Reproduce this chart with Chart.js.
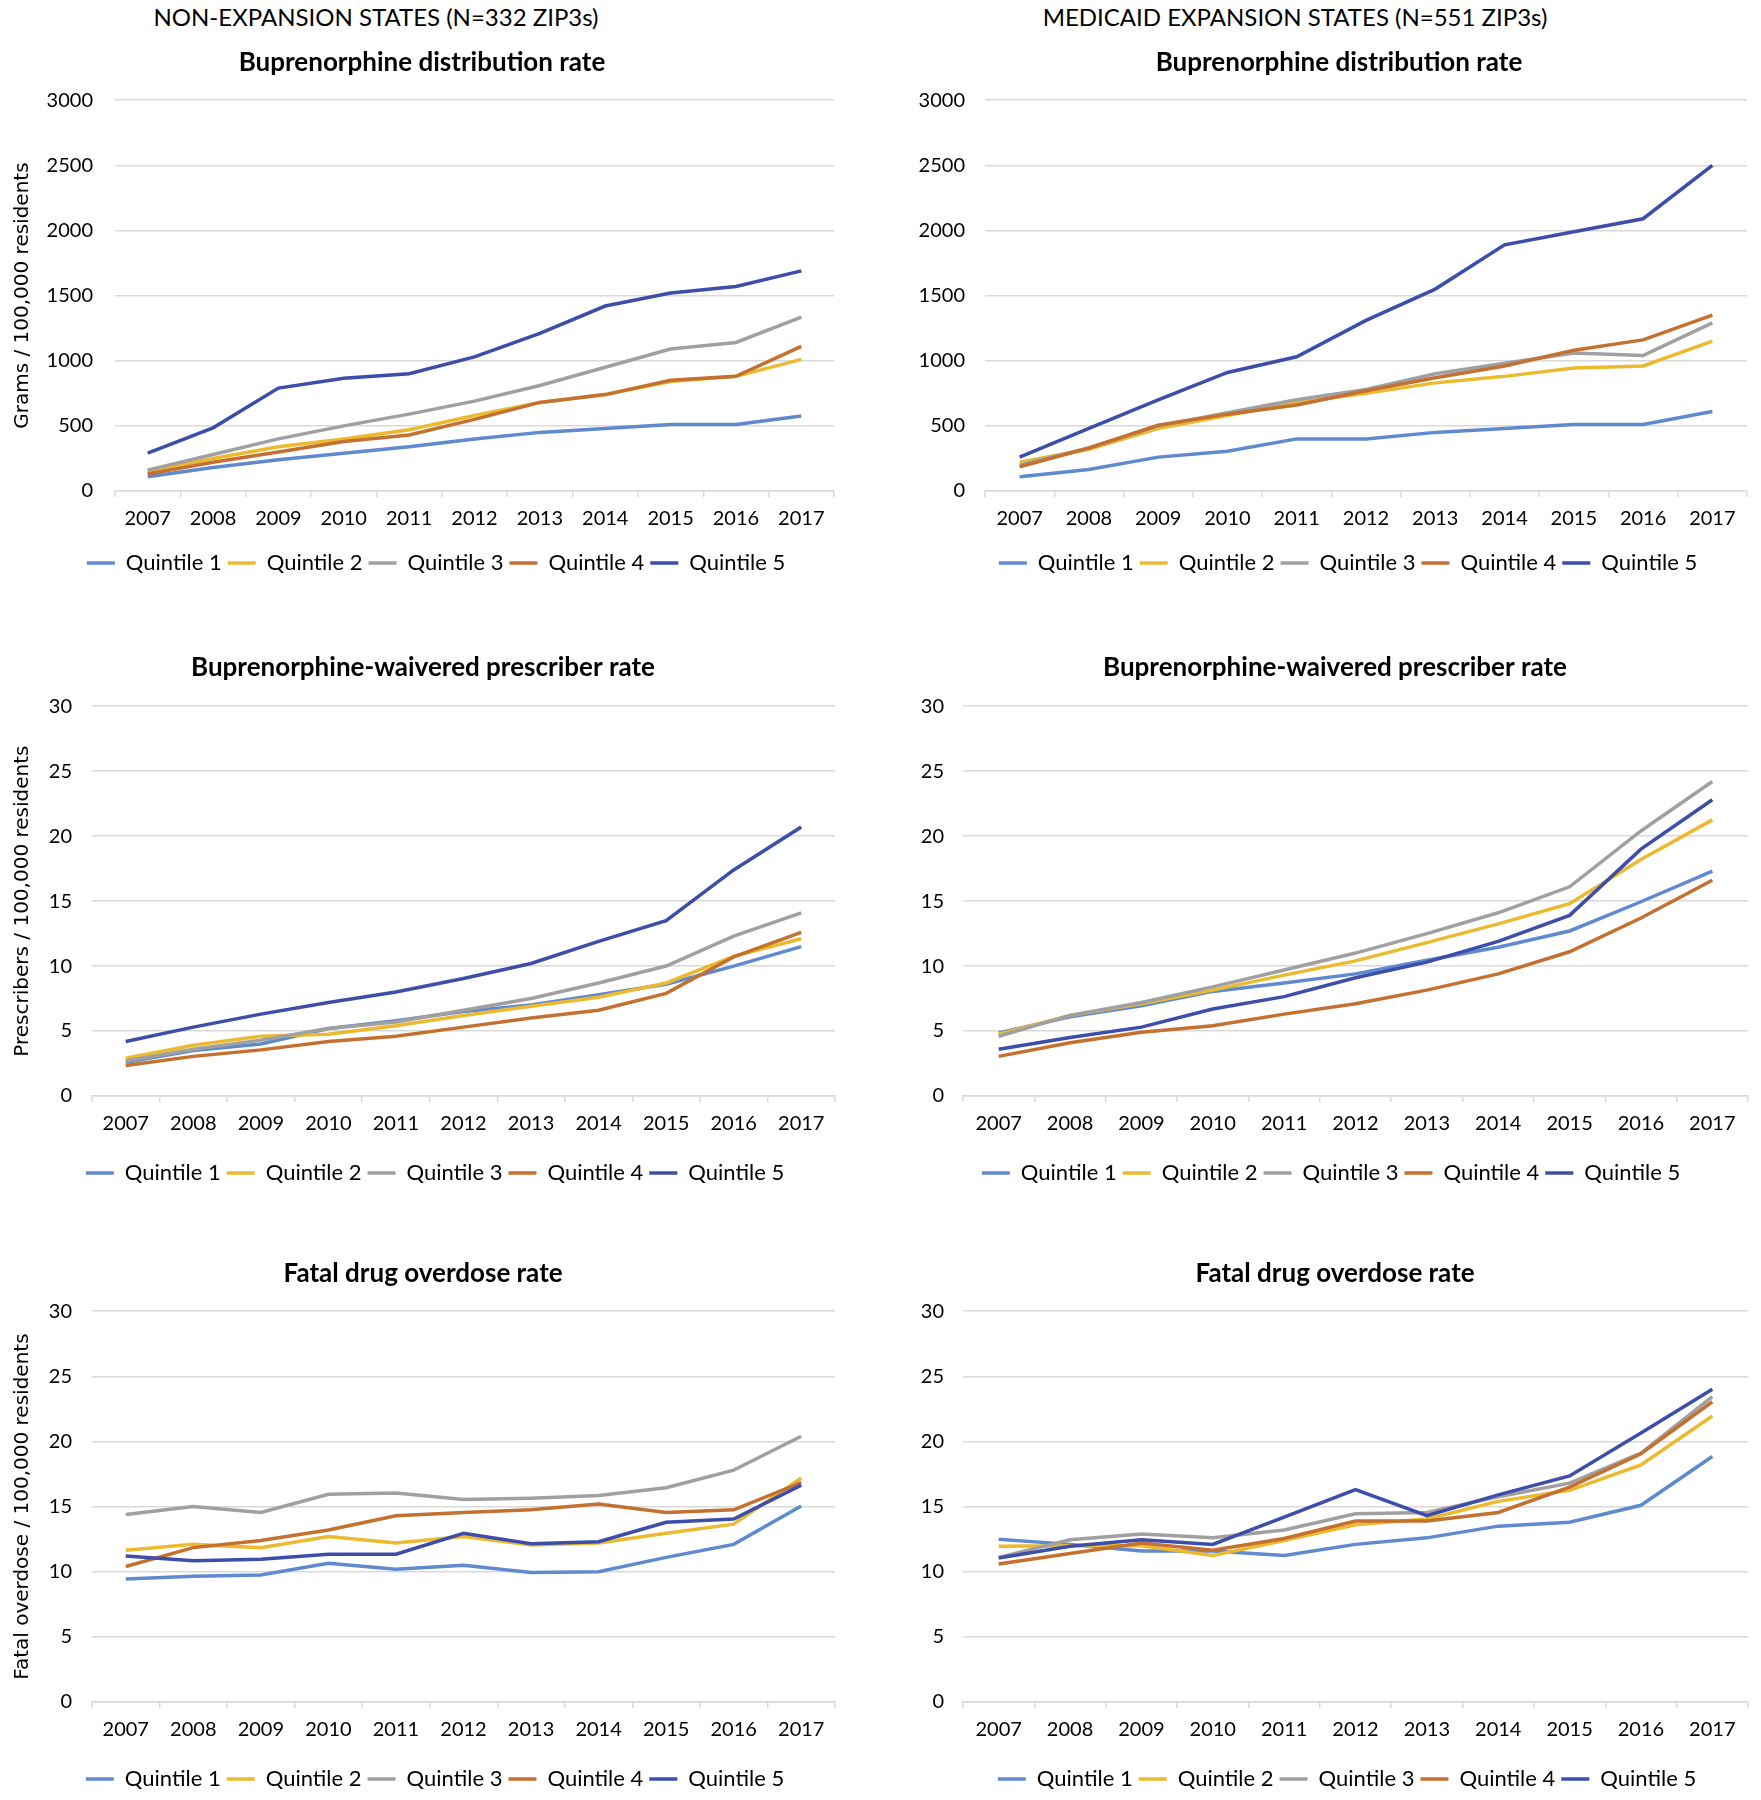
<!DOCTYPE html>
<html>
<head>
<meta charset="utf-8">
<script src="https://cdn.jsdelivr.net/npm/chart.js@4.4.1/dist/chart.umd.min.js"></script>
<style>
  html, body { margin: 0; padding: 0; background: #fff; }
  body { width: 1761px; height: 1800px; position: relative; overflow: hidden; font-family: Lato, sans-serif; }
  .head { position: absolute; top: 3px; font-size: 24px; line-height: 28px; color: #000; white-space: nowrap; transform: translateX(-50%); }
  canvas { position: absolute; }
</style>
</head>
<body>
<div class="head" style="left:376px">NON-EXPANSION STATES (N=332 ZIP3s)</div>
<div class="head" style="left:1295px">MEDICAID EXPANSION STATES (N=551 ZIP3s)</div>
<canvas id="distNon" width="860" height="570" style="left:0;top:30px"></canvas>
<canvas id="distExp" width="900" height="570" style="left:860px;top:30px"></canvas>
<canvas id="presNon" width="860" height="590" style="left:0;top:610px"></canvas>
<canvas id="presExp" width="900" height="590" style="left:860px;top:610px"></canvas>
<canvas id="odNon" width="860" height="600" style="left:0;top:1200px"></canvas>
<canvas id="odExp" width="900" height="600" style="left:860px;top:1200px"></canvas>
<script>
// categories
const years = ['2007', '2008', '2009', '2010', '2011', '2012', '2013', '2014', '2015', '2016', '2017'];
const quintiles = ['Quintile 1', 'Quintile 2', 'Quintile 3', 'Quintile 4', 'Quintile 5'];
const quintileColors = ['#5F8AD0', '#EBBA2F', '#A0A0A0', '#C4702F', '#3C4DAA'];

// Buprenorphine distribution rate (grams / 100,000) - non-expansion states
const distNonQ1 = [110, 180, 240, 290, 340, 400, 450, 480, 510, 510, 575];
const distNonQ2 = [150, 250, 340, 400, 470, 580, 680, 740, 840, 880, 1010];
const distNonQ3 = [160, 280, 400, 500, 590, 690, 810, 950, 1090, 1140, 1335];
const distNonQ4 = [130, 220, 300, 380, 430, 550, 680, 740, 850, 880, 1110];
const distNonQ5 = [290, 485, 790, 865, 900, 1030, 1210, 1420, 1520, 1570, 1690];

// Buprenorphine distribution rate - expansion states
const distExpQ1 = [110, 165, 260, 305, 400, 400, 450, 480, 510, 510, 610];
const distExpQ2 = [220, 320, 480, 580, 680, 750, 830, 880, 945, 960, 1150];
const distExpQ3 = [200, 330, 500, 600, 700, 780, 900, 980, 1060, 1040, 1290];
const distExpQ4 = [185, 330, 505, 590, 660, 770, 870, 960, 1080, 1160, 1350];
const distExpQ5 = [260, 480, 700, 910, 1030, 1310, 1550, 1890, 1990, 2090, 2500];

// Waivered prescriber rate - non-expansion states
const presNonQ1 = [2.6, 3.5, 4.0, 5.2, 5.8, 6.5, 7.0, 7.8, 8.6, 10.0, 11.5];
const presNonQ2 = [2.9, 3.9, 4.6, 4.75, 5.4, 6.2, 6.9, 7.6, 8.7, 10.75, 12.1];
const presNonQ3 = [2.7, 3.6, 4.3, 5.2, 5.7, 6.6, 7.5, 8.7, 10.0, 12.3, 14.1];
const presNonQ4 = [2.35, 3.05, 3.55, 4.2, 4.6, 5.3, 6.0, 6.6, 7.9, 10.7, 12.6];
const presNonQ5 = [4.2, 5.3, 6.3, 7.2, 8.0, 9.05, 10.2, 11.9, 13.5, 17.4, 20.7];

// Waivered prescriber rate - expansion states
const presExpQ1 = [4.85, 6.1, 6.95, 8.05, 8.7, 9.4, 10.45, 11.45, 12.7, 14.95, 17.3];
const presExpQ2 = [4.75, 6.2, 7.1, 8.15, 9.3, 10.4, 11.8, 13.25, 14.8, 18.2, 21.25];
const presExpQ3 = [4.6, 6.2, 7.2, 8.4, 9.7, 11.0, 12.5, 14.1, 16.1, 20.4, 24.2];
const presExpQ4 = [3.05, 4.1, 4.9, 5.4, 6.3, 7.1, 8.15, 9.4, 11.1, 13.7, 16.6];
const presExpQ5 = [3.6, 4.5, 5.3, 6.7, 7.65, 9.1, 10.3, 11.9, 13.9, 19.0, 22.8];

// Fatal overdose rate - non-expansion states
const odNonQ1 = [9.45, 9.65, 9.75, 10.65, 10.2, 10.5, 9.95, 10.0, 11.1, 12.1, 15.05];
const odNonQ2 = [11.65, 12.1, 11.85, 12.7, 12.2, 12.7, 12.05, 12.2, 12.95, 13.65, 17.2];
const odNonQ3 = [14.4, 15.0, 14.55, 15.95, 16.05, 15.55, 15.65, 15.85, 16.45, 17.8, 20.4];
const odNonQ4 = [10.4, 11.85, 12.4, 13.2, 14.3, 14.55, 14.75, 15.2, 14.55, 14.75, 16.85];
const odNonQ5 = [11.2, 10.85, 10.95, 11.35, 11.35, 12.95, 12.15, 12.3, 13.8, 14.05, 16.65];

// Fatal overdose rate - expansion states
const odExpQ1 = [12.5, 12.1, 11.6, 11.6, 11.25, 12.1, 12.6, 13.5, 13.8, 15.1, 18.85];
const odExpQ2 = [11.95, 12.0, 12.0, 11.25, 12.4, 13.6, 14.05, 15.4, 16.25, 18.2, 21.95];
const odExpQ3 = [11.1, 12.45, 12.9, 12.6, 13.2, 14.45, 14.55, 15.75, 16.8, 19.1, 23.45];
const odExpQ4 = [10.6, 11.4, 12.2, 11.65, 12.55, 13.9, 13.9, 14.55, 16.5, 19.05, 23.05];
const odExpQ5 = [11.05, 11.95, 12.45, 12.1, 14.2, 16.3, 14.3, 15.9, 17.35, 20.65, 24.0];

Chart.defaults.font.family = 'Lato, sans-serif';
Chart.defaults.color = '#000';

const gridGrey = '#D9D9D9';

// after layout: widen the y label clip box on narrow axes, nudge the legend sideways
const layoutTweaks = {
    id: 'layoutTweaks',
    afterLayout(chart, args, opts) {
        if (opts.yExtra) chart.scales.y.left -= opts.yExtra;
        if (opts.legendShift && chart.legend) {
            chart.legend.left += opts.legendShift;
            chart.legend.right += opts.legendShift;
        }
    }
};

function buildChart(id, series, o) {
    const ctx = document.getElementById(id).getContext('2d');
    return new Chart(ctx, {
        type: 'line',
        plugins: [layoutTweaks],
        data: {
            labels: years,
            datasets: series.map((vals, i) => ({
                label: quintiles[i],
                data: vals,
                borderColor: quintileColors[i],
                backgroundColor: quintileColors[i],
                borderWidth: 3.5,
                pointRadius: 0,
                tension: 0,
                fill: false,
                order: 5 - i
            }))
        },
        options: {
            responsive: false,
            animation: false,
            layout: { padding: o.pad },
            plugins: {
                layoutTweaks: { yExtra: o.yExtra || 0, legendShift: o.legendShift || 0 },
                title: {
                    display: true,
                    text: o.title,
                    color: '#000',
                    font: { size: 26, weight: 'bold' },
                    padding: o.titlePad
                },
                legend: {
                    position: 'bottom',
                    labels: {
                        usePointStyle: true,
                        pointStyle: 'line',
                        pointStyleWidth: 28,
                        padding: 6,
                        color: '#000',
                        font: { size: 22 },
                        sort: (a, b) => a.datasetIndex - b.datasetIndex
                    }
                },
                tooltip: { enabled: false }
            },
            scales: {
                x: {
                    offset: true,
                    grid: { offset: true, drawOnChartArea: false, drawTicks: true, tickLength: 6, color: gridGrey, lineWidth: 1.5 },
                    border: { display: true, color: gridGrey, width: 1.5 },
                    ticks: { padding: 10, font: { size: 20 }, maxRotation: 0 },
                    afterFit: s => { s.height = o.xHeight; }
                },
                y: {
                    min: 0,
                    max: o.yMax,
                    ticks: { stepSize: o.yStep, padding: o.yTickPad, font: { size: 20 }, callback: v => String(v) },
                    grid: { color: gridGrey, lineWidth: 1.5, drawTicks: false },
                    border: { display: false },
                    title: o.yTitle ? {
                        display: true,
                        text: o.yTitle,
                        color: '#000',
                        font: { family: 'DejaVu Sans', size: 20 },
                        padding: { top: o.yTitlePad, bottom: 0 }
                    } : { display: false },
                    afterFit: s => { s.width = o.yWidth; }
                }
            }
        }
    });
}

buildChart('distNon', [distNonQ1, distNonQ2, distNonQ3, distNonQ4, distNonQ5], {
    title: 'Buprenorphine distribution rate', yMax: 3000, yStep: 500,
    yTitle: 'Grams / 100,000 residents', yTitlePad: 1, legendShift: 14,
    pad: { left: 10, right: 26, top: 0, bottom: 16 }, titlePad: { top: 17, bottom: 22 },
    yWidth: 105, yTickPad: 22, xHeight: 55
});
buildChart('distExp', [distExpQ1, distExpQ2, distExpQ3, distExpQ4, distExpQ5], {
    title: 'Buprenorphine distribution rate', yMax: 3000, yStep: 500,
    yTitle: null, yExtra: 30, legendShift: 9,
    pad: { left: 71, right: 13, top: 0, bottom: 16 }, titlePad: { top: 17, bottom: 22 },
    yWidth: 54, yTickPad: 20, xHeight: 55
});
buildChart('presNon', [presNonQ1, presNonQ2, presNonQ3, presNonQ4, presNonQ5], {
    title: 'Buprenorphine-waivered prescriber rate', yMax: 30, yStep: 5,
    yTitle: 'Prescribers / 100,000 residents', yTitlePad: 0, legendShift: 12,
    pad: { left: 11, right: 25, top: 0, bottom: 6 }, titlePad: { top: 42, bottom: 23 },
    yWidth: 81, yTickPad: 20, xHeight: 60
});
buildChart('presExp', [presExpQ1, presExpQ2, presExpQ3, presExpQ4, presExpQ5], {
    title: 'Buprenorphine-waivered prescriber rate', yMax: 30, yStep: 5,
    yTitle: null, yExtra: 20, legendShift: -4,
    pad: { left: 62, right: 12, top: 0, bottom: 6 }, titlePad: { top: 42, bottom: 23 },
    yWidth: 41, yTickPad: 19, xHeight: 60
});
buildChart('odNon', [odNonQ1, odNonQ2, odNonQ3, odNonQ4, odNonQ5], {
    title: 'Fatal drug overdose rate', yMax: 30, yStep: 5,
    yTitle: 'Fatal overdose / 100,000 residents', yTitlePad: 0, legendShift: 12,
    pad: { left: 11, right: 25, top: 0, bottom: 0 }, titlePad: { top: 58, bottom: 22 },
    yWidth: 81, yTickPad: 20, xHeight: 60
});
buildChart('odExp', [odExpQ1, odExpQ2, odExpQ3, odExpQ4, odExpQ5], {
    title: 'Fatal drug overdose rate', yMax: 30, yStep: 5,
    yTitle: null, yExtra: 20, legendShift: 12,
    pad: { left: 62, right: 12, top: 0, bottom: 0 }, titlePad: { top: 58, bottom: 22 },
    yWidth: 41, yTickPad: 19, xHeight: 60
});
</script>
</body>
</html>
